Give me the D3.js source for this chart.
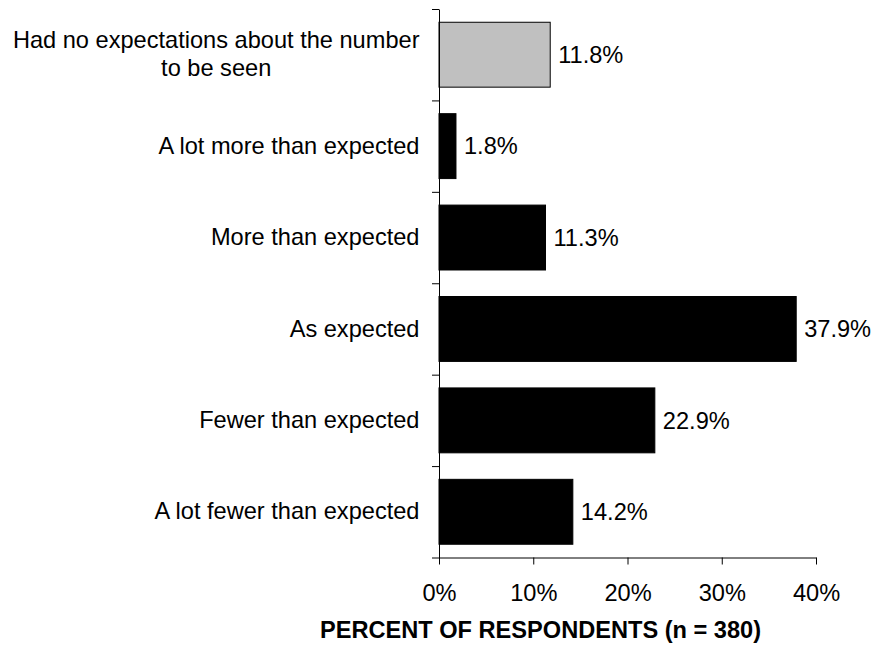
<!DOCTYPE html>
<html>
<head>
<meta charset="utf-8">
<script src="https://cdn.jsdelivr.net/npm/d3@7"></script>
<style>
  body { margin: 0; background: #fff; }
  svg { display: block; }
</style>
</head>
<body>
<script>
let w = 873;
let h = 646;

// categories top to bottom, "\n" marks a line break in the label
let categories = [
  "Had no expectations about the number\nto be seen",
  "A lot more than expected",
  "More than expected",
  "As expected",
  "Fewer than expected",
  "A lot fewer than expected"
];
let values = [11.8, 1.8, 11.3, 37.9, 22.9, 14.2];
let xTicks = [0, 10, 20, 30, 40];
let axisTitle = "PERCENT OF RESPONDENTS (n = 380)";

let dataset = categories.map((c, i) => ({ cat: c, value: values[i] }));

let font = "'Liberation Sans', Arial, sans-serif";
let fs = 23.6;

let plotLeft = 439, plotRight = 816, plotTop = 9, plotBottom = 557.5;

let xScale = d3.scaleLinear()
  .domain([0, 40])
  .range([plotLeft, plotRight]);

let yScale = d3.scaleBand()
  .domain(categories)
  .range([plotTop, plotBottom])
  .paddingInner(0.29)
  .paddingOuter(0.145);

// scale for the tick marks between categories
let yTickScale = d3.scaleLinear()
  .domain([0, categories.length])
  .range([plotTop, plotBottom]);

let svg = d3.select("body")
  .append("svg")
  .attr("width", w)
  .attr("height", h);

// bars
svg.selectAll("rect.bar")
  .data(dataset)
  .enter()
  .append("rect")
  .attr("class", "bar")
  .attr("x", xScale(0))
  .attr("y", d => yScale(d.cat))
  .attr("width", d => xScale(d.value) - xScale(0))
  .attr("height", yScale.bandwidth())
  .attr("fill", (d, i) => i === 0 ? "#c0c0c0" : "#000")
  .attr("stroke", "#000")
  .attr("stroke-width", 1);

// value labels
svg.selectAll("text.val")
  .data(dataset)
  .enter()
  .append("text")
  .attr("class", "val")
  .attr("x", d => xScale(d.value) + 8)
  .attr("y", d => yScale(d.cat) + yScale.bandwidth() / 2)
  .attr("dy", "0.35em")
  .attr("font-family", font)
  .attr("font-size", fs + "px")
  .attr("fill", "#000")
  .text(d => d.value.toFixed(1) + "%");

// x axis
let xAxis = svg.append("g")
  .attr("transform", "translate(0," + plotBottom + ")")
  .call(d3.axisBottom(xScale)
    .tickValues(xTicks)
    .tickSize(7)
    .tickSizeOuter(0)
    .tickPadding(20)
    .tickFormat(d => d + "%"));
xAxis.selectAll("text")
  .attr("font-family", font)
  .attr("font-size", fs + "px")
  .attr("fill", "#000");
xAxis.selectAll("line, path").attr("stroke", "#000");

// y axis (ticks between categories, no labels)
let yAxis = svg.append("g")
  .attr("transform", "translate(" + plotLeft + ",0)")
  .call(d3.axisLeft(yTickScale)
    .tickValues(d3.range(categories.length + 1))
    .tickSize(7)
    .tickSizeOuter(0)
    .tickFormat(""));
yAxis.selectAll("line, path").attr("stroke", "#000");

// category labels
let lineH = 27.6;
let labelRight = 419.5;
dataset.forEach(d => {
  let lines = d.cat.split("\n");
  let cy = yScale(d.cat) + yScale.bandwidth() / 2;
  let t = svg.append("text")
    .attr("font-family", font)
    .attr("font-size", fs + "px")
    .attr("fill", "#000");
  lines.forEach((ln, j) => {
    t.append("tspan")
      .attr("x", labelRight)
      .attr("y", cy - (lines.length - 1) * lineH / 2 + j * lineH)
      .attr("dy", "0.32em")
      .text(ln);
  });
  if (lines.length === 1) {
    t.attr("text-anchor", "end");
  } else {
    // block right-aligned, lines centred within it
    let maxW = d3.max(t.selectAll("tspan").nodes(), n => n.getComputedTextLength());
    t.attr("text-anchor", "middle");
    t.selectAll("tspan").attr("x", labelRight - maxW / 2);
  }
});

// axis title
svg.append("text")
  .attr("x", 540.5)
  .attr("y", 638)
  .attr("text-anchor", "middle")
  .attr("font-family", font)
  .attr("font-size", fs + "px")
  .attr("font-weight", "bold")
  .attr("fill", "#000")
  .text(axisTitle);
</script>
</body>
</html>
